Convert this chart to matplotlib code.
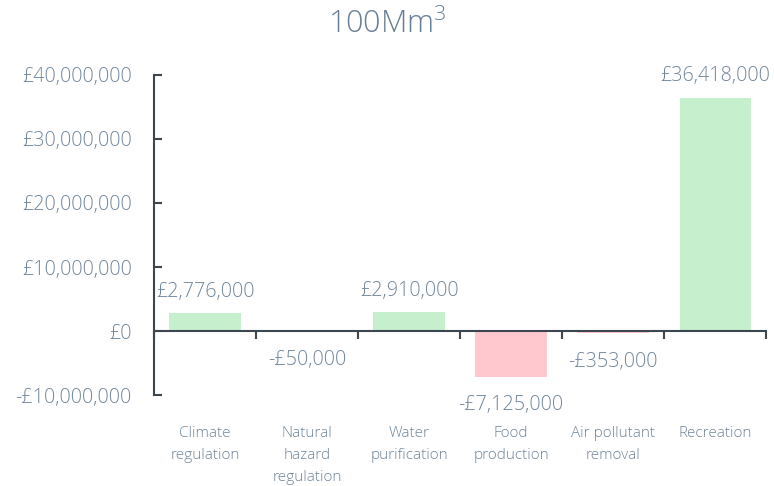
import matplotlib
matplotlib.use("Agg")
import matplotlib.pyplot as plt
import matplotlib.transforms as mtransforms
import numpy as np

categories = ["Climate\nregulation", "Natural\nhazard\nregulation", "Water\npurification",
              "Food\nproduction", "Air pollutant\nremoval", "Recreation"]
values = [2776000, -50000, 2910000, -7125000, -353000, 36418000]
ytick_vals = [-10000000, 0, 10000000, 20000000, 30000000, 40000000]

plt.rcParams['font.family'] = ['Open Sans', 'DejaVu Sans']
txt = '#6F869B'
axc = '#3C4650'
green = '#C6EFCE'
pink = '#FFC7CE'

def fmt(v):
    s = "£{:,.0f}".format(abs(v))
    return ("-" + s) if v < 0 else s

fig = plt.figure(figsize=(7.74, 4.86), dpi=100)
ax = fig.add_axes([0.199, 0.187, 0.791, 0.659])

x = np.arange(len(categories))
colors = [green if v >= 0 else pink for v in values]
ax.bar(x, values, width=0.7, color=colors, zorder=2)

ax.set_xlim(-0.5, len(categories) - 0.5)
ax.set_ylim(-10000000, 40000000)

for s in ['top', 'right']:
    ax.spines[s].set_visible(False)
ax.spines['bottom'].set_position(('data', 0))
ax.spines['bottom'].set_color(axc)
ax.spines['left'].set_color(axc)
ax.spines['bottom'].set_linewidth(1.5)
ax.spines['left'].set_linewidth(1.5)
ax.spines['bottom'].set_zorder(3)

lw = 'light'
ax.set_yticks(ytick_vals)
ax.set_yticklabels([fmt(v) if v != 0 else "£0" for v in ytick_vals], fontsize=14.2,
                   color=txt, fontweight=lw)
ax.tick_params(axis='y', direction='in', length=6, width=1.5, color=axc, pad=16)

ax.set_xticks(np.arange(len(categories) + 1) - 0.5)
ax.set_xticklabels([])
ax.tick_params(axis='x', direction='out', length=6, width=1.5, color=axc)

trans = mtransforms.blended_transform_factory(ax.transData, ax.transAxes)
for xi, c in zip(x, categories):
    ax.text(xi, -0.097, c, transform=trans, ha='center', va='top', fontsize=11,
            color=txt, linespacing=1.65, fontweight=lw)

for xi, v in zip(x, values):
    if v >= 0:
        ax.text(xi, v + 3400000, fmt(v), ha='center', va='center', fontsize=14.2,
                color=txt, fontweight=lw)
    else:
        ax.text(xi, v - 4400000, fmt(v), ha='center', va='center', fontsize=14.2,
                color=txt, fontweight=lw)

fig.text(0.5, 0.948, "100Mm$^\\mathregular{3}$", ha='center', va='center', fontsize=22,
         color='#667F96', fontweight=lw)

fig.savefig("out.png", dpi=100)
